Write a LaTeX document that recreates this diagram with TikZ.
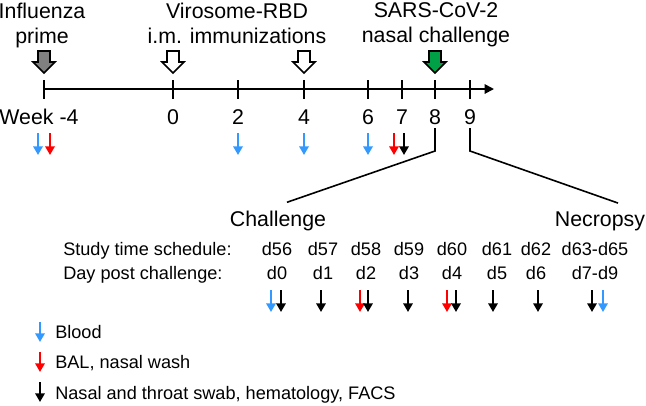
\documentclass[tikz,border=0pt]{standalone}
\usepackage{fontspec}
\setmainfont{Liberation Sans}
\usetikzlibrary{arrows.meta,positioning}
\definecolor{bloodblue}{RGB}{51,153,255}
\definecolor{balred}{RGB}{255,0,0}
\definecolor{virgreen}{RGB}{0,160,70}
\newcommand{\fatarrow}[2]{\draw[line width=1.2pt,fill=#2] ({#1-6},51) -- ({#1+6},51) -- ({#1+6},62) -- ({#1+11},62) -- (#1,73) -- ({#1-11},62) -- ({#1-6},62) -- cycle;}

\begin{document}
\begin{tikzpicture}[x=0.75pt,y=-0.75pt,>={Triangle[length=6.5pt,width=7pt]},
  big/.style={font=\fontsize{16}{18.75}\selectfont,inner sep=0pt},
  small/.style={font=\fontsize{13.6}{16}\selectfont,inner sep=0pt},
  samp/.style={->,line width=1.6pt}]
  \useasboundingbox (0,0) rectangle (646,405);
  \node[big,align=center] (flu) at (42,25) {Influenza\\prime};
  \node[big,align=center] (viro) at (237,23) {Virosome-RBD\\i.m. immunizations};
  \node[big,align=center] (sars) at (436,25) {SARS-CoV-2\\nasal challenge};
  \fatarrow{44}{gray}
  \fatarrow{173}{white}
  \fatarrow{304}{white}
  \fatarrow{435}{virgreen}
  \coordinate (tstart) at (44,89);
  \coordinate (tend) at (494,89);
  \draw[line width=1.4pt,-{Triangle[length=7pt,width=7pt]}] (tstart) -- (tend);
  \foreach \x in {44,173,238,304,368,402,435,470}
    \draw[line width=1.4pt] (\x,80) -- (\x,99);
  \node[big,anchor=base] (wkm4) at (39,124) {Week -4};
  \foreach \w/\x in {0/173,2/238,4/304,6/368,7/402,8/435,9/470}
    \node[big,anchor=base] (wk\w) at (\x,124) {\w};
  \foreach \c/\x in {bloodblue/38,balred/50,bloodblue/238,bloodblue/304,bloodblue/368,balred/394,black/404}
    \draw[samp,\c] (\x,133) -- (\x,155);
  \node[big,anchor=base] (chal) at (278,226) {Challenge};
  \node[big,anchor=base] (necr) at (600,226) {Necropsy};
  \coordinate (br8) at (435,128);
  \coordinate (br9) at (470,128);
  \draw[line width=1.2pt] (br8) -- ++(0,23) -- ([xshift=6.75pt,yshift=6pt]chal.north);
  \draw[line width=1.2pt] (br9) -- ++(0,23) -- ([xshift=13.5pt,yshift=6pt]necr.north);
  \node[small,anchor=base west] (sched) at (63,255) {Study time schedule:};
  \node[small,anchor=base west] (post) at (63,279) {Day post challenge:};
  \foreach \n/\x/\s/\d in {1/277/d56/d0,2/323/d57/d1,3/366/d58/d2,4/409/d59/d3,5/452/d60/d4,6/497/d61/d5,7/536/d62/d6,8/595/d63-d65/d7-d9}{
    \node[small,anchor=base] (s\n) at (\x,255) {\s};
    \node[small,anchor=base] (p\n) at (\x,279) {\d};
  }
  \foreach \c/\x in {bloodblue/271,black/281,black/321,balred/360,black/368,black/408,balred/447,black/456,black/493,black/538,black/592,bloodblue/603}
    \draw[samp,\c] (\x,290) -- (\x,312);
  \draw[samp,bloodblue] (40,322) -- (40,342);
  \node[small,anchor=base west] (legblood) at (55,338) {Blood};
  \draw[samp,balred] (40,352) -- (40,372);
  \node[small,anchor=base west] (legbal) at (55,368) {BAL, nasal wash};
  \draw[samp,black] (40,382) -- (40,402);
  \node[small,anchor=base west] (legswab) at (55,399) {Nasal and throat swab, hematology, FACS};
\end{tikzpicture}
\end{document}
